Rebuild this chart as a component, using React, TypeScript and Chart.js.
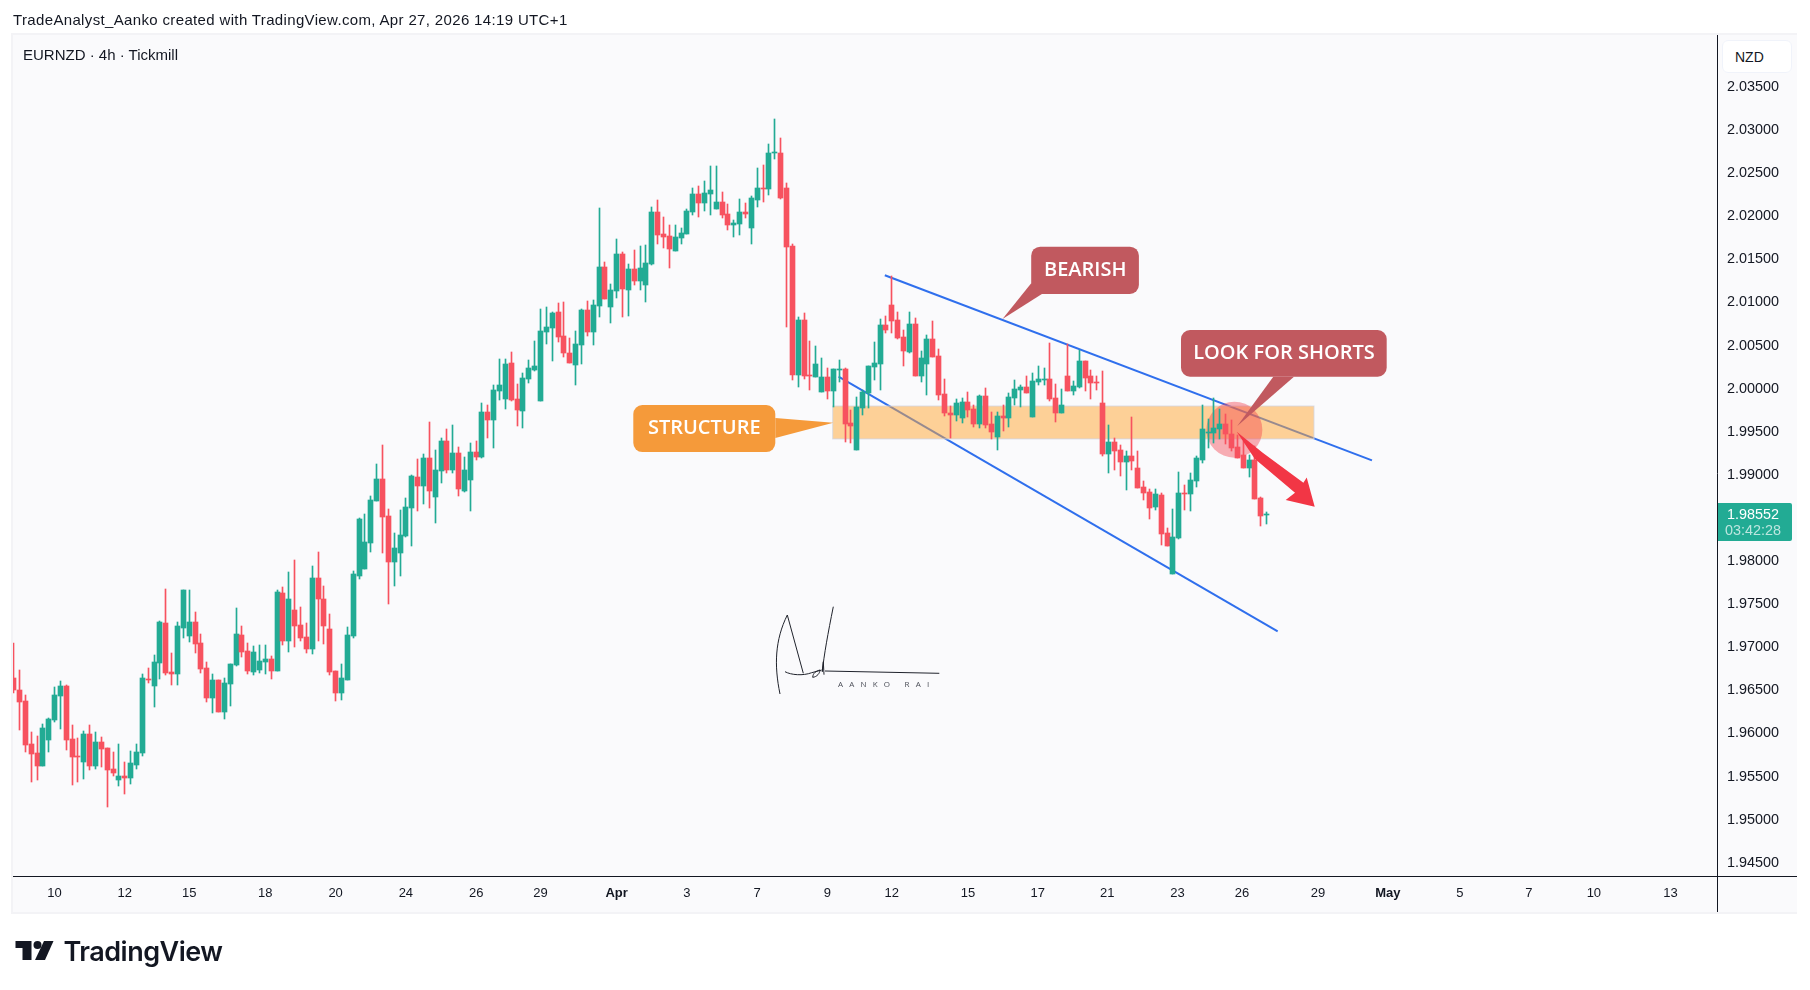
import { useEffect, useRef } from "react";
import { Chart, registerables } from "chart.js";

Chart.register(...registerables);

const UP = "#22ab94";
const DOWN = "#f7525f";
const INK = "#131722";
const PANEL = "#fafafc";
const UI_FONT = '"Liberation Sans", Arial, sans-serif';
const CALLOUT_FONT = '"Open Sans", sans-serif';

const opens = [
  1.96644,1.96505,1.96377,1.95878,1.95774,1.95623,1.95925,1.96157,1.96435,1.96551,
  1.95936,1.95739,1.95669,1.95994,1.95623,1.95901,1.95832,1.95588,1.95460,1.95507,
  1.95483,1.95635,1.95774,1.96632,1.96551,1.96818,1.97282,1.96713,1.96690,1.97224,
  1.97131,1.97293,1.97050,1.96760,1.96412,1.96621,1.96249,1.96574,1.96795,1.97143,
  1.96957,1.96713,1.96737,1.96829,1.96864,1.96725,1.97630,1.97073,1.97433,1.97259,
  1.97120,1.96980,1.97804,1.97560,1.97212,1.96725,1.96470,1.96621,1.97131,1.97827,
  1.97908,1.98210,1.98697,1.98952,1.98523,1.97990,1.98094,1.98291,1.98616,1.98976,
  1.98871,1.99196,1.98743,1.99045,1.99393,1.99057,1.99254,1.98813,1.98941,1.99265,
  1.99208,1.99730,1.99637,1.99973,1.99880,2.00298,1.99880,1.99741,2.00112,2.00217,
  1.99857,2.00658,2.00704,2.00890,2.00611,2.00414,2.00275,2.00507,2.00913,2.00658,
  2.00959,2.01412,2.00948,2.01133,2.01562,2.01145,2.01388,2.01249,2.01203,2.01446,
  2.02050,2.01794,2.01771,2.01597,2.01748,2.01794,2.02050,2.02258,2.02154,2.02258,
  2.02085,2.02166,2.02027,2.01899,2.01910,2.02050,2.01864,2.02189,2.02328,2.02316,
  2.02734,2.02734,2.02328,2.01655,2.00159,2.00797,2.00159,2.00136,1.99961,2.00136,
  1.99973,2.00217,2.00228,1.99602,1.99289,1.99776,1.99950,2.00251,2.00286,2.00739,
  2.00971,2.00797,2.00600,2.00425,2.00750,2.00147,2.00286,2.00576,2.00379,1.99938,
  1.99718,1.99695,1.99660,1.99845,1.99764,1.99590,1.99915,1.99590,1.99440,1.99683,
  1.99660,1.99892,1.99985,2.00019,1.99671,2.00078,2.00101,2.00112,1.99892,1.99718,
  2.00147,1.99973,2.00019,2.00321,2.00147,2.00078,1.99834,1.99242,1.99382,1.99289,
  1.99150,1.99219,1.99080,1.98860,1.98802,1.98627,1.98767,1.98326,1.97850,1.98268,
  1.98790,1.98778,1.98929,1.99173,1.99486,1.99486,1.99532,1.99590,1.99474,1.99324,
  1.99231,1.99080,1.99173,1.98732,1.98531,
];
const highs = [
  1.97050,1.96737,1.96447,1.96017,1.95970,1.96110,1.96180,1.96539,1.96609,1.96563,
  1.96099,1.95948,1.96029,1.96099,1.96017,1.95959,1.95832,1.95786,1.95878,1.95669,
  1.95797,1.95878,1.96690,1.96760,1.96911,1.97305,1.97676,1.96934,1.97293,1.97665,
  1.97665,1.97410,1.97154,1.96829,1.96690,1.96621,1.96644,1.96806,1.97456,1.97247,
  1.97050,1.97015,1.97027,1.97027,1.96899,1.97665,1.97700,1.97874,1.98013,1.97468,
  1.97282,1.97943,1.98106,1.97711,1.97386,1.96725,1.96806,1.97235,1.97885,1.98500,
  1.98546,1.98755,1.99126,1.99347,1.98604,1.98326,1.98593,1.98732,1.98999,1.99184,
  1.99242,1.99614,1.99289,1.99428,1.99532,1.99579,1.99324,1.99208,1.99370,1.99393,
  1.99834,1.99811,2.00042,2.00344,2.00344,2.00425,2.00054,2.00182,2.00333,2.00553,
  2.00925,2.00948,2.00890,2.00994,2.01006,2.00588,2.00669,2.00925,2.01017,2.01029,
  2.02096,2.01470,2.01214,2.01736,2.01585,2.01446,2.01609,2.01655,2.01667,2.02108,
  2.02189,2.01992,2.01899,2.01899,2.01864,2.02085,2.02328,2.02351,2.02409,2.02583,
  2.02583,2.02282,2.02142,2.01957,2.02200,2.02154,2.02235,2.02560,2.02595,2.02839,
  2.03129,2.02908,2.02386,2.01678,2.00832,2.00878,2.00553,2.00495,2.00356,2.00240,
  2.00228,2.00333,2.00240,1.99753,1.99904,1.99985,2.00263,2.00542,2.00808,2.00843,
  2.01307,2.00890,2.00681,2.00890,2.00820,2.00437,2.00623,2.00785,2.00460,2.00112,
  1.99799,1.99880,1.99892,1.99961,1.99811,1.99927,2.00008,1.99730,1.99730,1.99811,
  1.99950,2.00101,2.00042,2.00147,2.00182,2.00263,2.00240,2.00530,2.00054,1.99996,
  2.00518,2.00089,2.00449,2.00321,2.00217,2.00147,2.00205,1.99579,1.99428,1.99347,
  1.99277,1.99672,1.99277,1.98929,1.98836,1.98836,1.98790,1.98384,1.98604,1.99034,
  1.98883,1.99022,1.99219,1.99811,1.99648,1.99892,1.99764,1.99706,1.99637,1.99463,
  1.99393,1.99231,1.99335,1.98744,1.98569,
];
const lows = [
  1.96470,1.96041,1.95786,1.95437,1.95460,1.95620,1.95786,1.96134,1.96052,1.95809,
  1.95403,1.95437,1.95472,1.95577,1.95588,1.95611,1.95148,1.95507,1.95391,1.95298,
  1.95414,1.95588,1.95739,1.96586,1.96307,1.96632,1.96679,1.96563,1.96563,1.97108,
  1.97061,1.96934,1.96702,1.96365,1.96238,1.96249,1.96168,1.96319,1.96783,1.96887,
  1.96690,1.96679,1.96702,1.96690,1.96632,1.96725,1.97027,1.96945,1.97003,1.97073,
  1.96934,1.96922,1.97073,1.97038,1.96679,1.96377,1.96389,1.96621,1.97108,1.97792,
  1.97908,1.98106,1.98697,1.98094,1.97502,1.97711,1.97827,1.98279,1.98175,1.98581,
  1.98662,1.98616,1.98442,1.98906,1.99022,1.99022,1.98755,1.98801,1.98581,1.99173,
  1.99196,1.99428,1.99312,1.99869,1.99764,1.99857,1.99567,1.99544,2.00066,2.00205,
  1.99857,2.00518,2.00321,2.00542,2.00367,2.00298,2.00042,2.00286,2.00611,2.00507,
  2.00832,2.01040,2.00762,2.01052,2.00832,2.00843,2.01203,2.01145,2.01006,2.01435,
  2.01678,2.01632,2.01400,2.01597,2.01678,2.01794,2.02015,2.01992,2.02061,2.02015,
  2.02085,2.01980,2.01841,2.01760,2.01783,2.01980,2.01678,2.02108,2.02166,2.02247,
  2.02665,2.02200,2.00716,2.00101,2.00019,2.00112,1.99985,2.00136,1.99961,1.99880,
  1.99787,2.00078,1.99381,1.99370,1.99289,1.99695,1.99776,2.00101,1.99985,2.00646,
  2.00646,2.00576,2.00263,2.00414,2.00147,2.00078,1.99927,2.00367,1.99869,1.99683,
  1.99428,1.99625,1.99602,1.99671,1.99555,1.99544,1.99544,1.99416,1.99289,1.99509,
  1.99555,1.99811,1.99787,1.99950,1.99671,2.00042,2.00042,1.99857,1.99614,1.99718,
  1.99973,1.99927,2.00008,1.99973,1.99880,1.99985,1.99219,1.99022,1.99057,1.98987,
  1.98825,1.99057,1.98848,1.98709,1.98488,1.98593,1.98187,1.98175,1.97850,1.98256,
  1.98593,1.98581,1.98860,1.99138,1.99312,1.99370,1.99416,1.99358,1.99277,1.99196,
  1.99080,1.98975,1.98720,1.98407,1.98430,
];
const closes = [
  1.96505,1.96365,1.95867,1.95762,1.95623,1.96064,1.96168,1.96447,1.96551,1.95925,
  1.95727,1.95727,1.95994,1.95623,1.95901,1.95820,1.95577,1.95542,1.95507,1.95483,
  1.95658,1.95786,1.96644,1.96621,1.96829,1.97293,1.96702,1.96690,1.97247,1.97665,
  1.97293,1.97038,1.96748,1.96412,1.96621,1.96249,1.96586,1.96806,1.97154,1.96945,
  1.96725,1.96945,1.96841,1.96864,1.96725,1.97642,1.97073,1.97560,1.97247,1.97108,
  1.96980,1.97804,1.97560,1.97247,1.96713,1.96470,1.96644,1.97143,1.97850,1.98488,
  1.98222,1.98709,1.98952,1.98512,1.97990,1.98152,1.98303,1.98627,1.98987,1.98871,
  1.99196,1.98813,1.99057,1.99393,1.99057,1.99254,1.98836,1.99057,1.99265,1.99208,
  1.99730,1.99637,1.99985,2.00042,2.00286,1.99869,1.99753,2.00124,2.00240,2.00263,
  2.00669,2.00716,2.00878,2.00600,2.00414,2.00298,2.00518,2.00913,2.00658,2.00971,
  2.01412,2.01040,2.01145,2.01562,2.01156,2.01388,2.01249,2.01400,2.01458,2.02050,
  2.01783,2.01760,2.01620,2.01760,2.01806,2.02061,2.02258,2.02154,2.02270,2.02305,
  2.02166,2.02015,2.01899,2.01922,2.02050,2.02027,2.02212,2.02328,2.02316,2.02734,
  2.02746,2.02212,2.01644,2.00159,2.00797,2.00147,2.00147,2.00286,2.00136,1.99973,
  2.00228,2.00228,1.99590,1.99567,1.99787,1.99961,2.00263,2.00298,2.00739,2.00681,
  2.00785,2.00588,2.00437,2.00750,2.00147,2.00356,2.00576,2.00367,1.99927,1.99718,
  1.99695,1.99834,1.99845,1.99753,1.99590,1.99915,1.99579,1.99498,1.99683,1.99660,
  1.99904,1.99996,2.00019,1.99950,2.00089,2.00112,2.00112,1.99880,1.99718,1.99811,
  1.99973,2.00031,2.00321,2.00124,2.00066,2.00066,1.99242,1.99382,1.99277,1.99150,
  1.99219,1.99161,1.98848,1.98790,1.98616,1.98778,1.98314,1.98175,1.98280,1.98790,
  1.98778,1.98941,1.99196,1.99532,1.99498,1.99544,1.99590,1.99474,1.99312,1.99196,
  1.99080,1.99173,1.98720,1.98523,1.98552,
];

const priceTicks = [
  2.035, 2.03, 2.025, 2.02, 2.015, 2.01, 2.005, 2.0, 1.995, 1.99, 1.98, 1.975,
  1.97, 1.965, 1.96, 1.955, 1.95, 1.945,
];
const timeTickPositions = [
  7, 19, 30, 43, 55, 67, 79, 90, 103, 115, 127, 139, 150, 163, 174.9, 186.8,
  198.8, 209.8, 222.8, 234.7, 247, 258.8, 269.9, 283,
];
const timeTickLabels = [
  "10", "12", "15", "18", "20", "24", "26", "29", "Apr", "3", "7", "9", "12",
  "15", "17", "21", "23", "26", "29", "May", "5", "7", "10", "13",
];

// drawings, anchored on bar index / price
const upperTrend = [{ x: 148.8, y: 2.01316 }, { x: 232.0, y: 1.99169 }];
const lowerTrend = [{ x: 140.9, y: 2.00139 }, { x: 215.9, y: 1.97184 }];
const structureZone = { x0: 139.9, x1: 222.1, top: 1.99799, bottom: 1.99417 };
const shortCircle = { x: 208.5, y: 1.99524 };
const arrowStart = { x: 208.9, y: 1.99500 };

const callouts = [
  { text: "STRUCTURE", fill: "#f59a3a", x: 140.0, y: 1.99605, box: [-200, -17.7, -58, 29.3], tail: [[-58, -4.7], [-58, 15.3]], textAt: [-129, 5.5] },
  { text: "BEARISH", fill: "#c1595f", x: 168.9, y: 2.00809, box: [28.7, -72.3, 136.4, -25], tail: [[28.7, -35.7], [39.4, -25]], textAt: [82.7, -49] },
  { text: "LOOK FOR SHORTS", fill: "#c1595f", x: 209.0, y: 1.99567, box: [-56.3, -96, 149.4, -49.3], tail: [[36, -49.3], [56.7, -49.3]], textAt: [46.7, -72.5] },
];

function snapBars(chart: any) {
  chart.data.datasets.forEach((ds: any, i: number) => {
    if (ds.type === "line") return;
    chart.getDatasetMeta(i).data.forEach((el: any) => {
      el.x = Math.floor(el.x) + 0.5;
      el.y = Math.round(el.y);
      el.base = Math.round(el.base);
      if (el.y === el.base) el.base = el.y + 1;
    });
  });
}

const framePlugin = {
  id: "frame",
  beforeDraw(chart: any) {
    const { ctx, chartArea: a } = chart;
    ctx.save();
    ctx.fillStyle = "#f3f3f6";
    ctx.fillRect(a.left - 2, a.top - 2, 1799 - a.left, 912 - a.top + 4);
    ctx.fillStyle = PANEL;
    ctx.fillRect(a.left, a.top, 1797 - a.left, 912 - a.top);
    ctx.restore();
  },
  beforeDatasetDraw(chart: any, args: any) {
    if (args.meta.label !== "wicks") return;
    const { ctx, scales } = chart;
    const { x, y } = scales;
    ctx.save();
    const zx = x.getPixelForValue(structureZone.x0);
    const zy = y.getPixelForValue(structureZone.top);
    const zw = x.getPixelForValue(structureZone.x1) - zx;
    const zh = y.getPixelForValue(structureZone.bottom) - zy;
    ctx.fillStyle = "rgba(255,165,50,0.5)";
    ctx.fillRect(zx, zy, zw, zh);
    ctx.strokeStyle = "rgba(210,214,226,0.8)";
    ctx.lineWidth = 1;
    ctx.strokeRect(zx, zy, zw, zh);
    ctx.beginPath();
    ctx.arc(x.getPixelForValue(shortCircle.x), y.getPixelForValue(shortCircle.y), 28, 0, Math.PI * 2);
    ctx.fillStyle = "rgba(242,54,69,0.4)";
    ctx.fill();
    ctx.restore();
  },
  afterDraw(chart: any) {
    const { ctx, chartArea: a, scales } = chart;
    const { x, y } = scales;
    ctx.save();
    // axis rules
    ctx.strokeStyle = INK;
    ctx.lineWidth = 1;
    ctx.beginPath();
    ctx.moveTo(a.right + 0.5, a.top);
    ctx.lineTo(a.right + 0.5, 912);
    ctx.moveTo(a.left, a.bottom + 0.5);
    ctx.lineTo(1797, a.bottom + 0.5);
    ctx.stroke();

    // last price tag
    const py = y.getPixelForValue(closes[closes.length - 1]);
    ctx.fillStyle = UP;
    ctx.beginPath();
    ctx.roundRect(a.right + 1, py - 10.5, 74, 38, [0, 2, 2, 0]);
    ctx.fill();
    ctx.textAlign = "center";
    ctx.textBaseline = "middle";
    ctx.font = `14.4px ${UI_FONT}`;
    ctx.fillStyle = "#ffffff";
    ctx.fillText(closes[closes.length - 1].toFixed(5), a.right + 36, py + 1.5);
    ctx.fillStyle = "rgba(255,255,255,0.7)";
    ctx.fillText("03:42:28", a.right + 36, py + 17.5);

    // callouts
    for (const c of callouts) {
      const tx = x.getPixelForValue(c.x);
      const ty = y.getPixelForValue(c.y);
      const [l, t, r, b] = c.box;
      ctx.fillStyle = c.fill;
      ctx.beginPath();
      ctx.roundRect(tx + l, ty + t, r - l, b - t, 9);
      ctx.fill();
      ctx.beginPath();
      ctx.moveTo(tx, ty);
      ctx.lineTo(tx + c.tail[0][0], ty + c.tail[0][1]);
      ctx.lineTo(tx + c.tail[1][0], ty + c.tail[1][1]);
      ctx.closePath();
      ctx.fill();
      ctx.fillStyle = "#ffffff";
      ctx.font = `600 20px ${CALLOUT_FONT}`;
      ctx.textAlign = "center";
      ctx.textBaseline = "middle";
      ctx.fillText(c.text, tx + c.textAt[0], ty + c.textAt[1]);
    }

    // arrow
    const ax = x.getPixelForValue(arrowStart.x);
    const ay = y.getPixelForValue(arrowStart.y);
    ctx.fillStyle = "#f23645";
    ctx.beginPath();
    ctx.moveTo(ax, ay);
    ctx.lineTo(ax + 26, ay + 21);
    ctx.lineTo(ax + 66.7, ay + 51);
    ctx.lineTo(ax + 70, ay + 45.7);
    ctx.lineTo(ax + 78, ay + 75);
    ctx.lineTo(ax + 49, ay + 68.3);
    ctx.lineTo(ax + 58.3, ay + 61);
    ctx.lineTo(ax + 18, ay + 27);
    ctx.closePath();
    ctx.fill();
    ctx.restore();
  },
};

export default function App() {
  const canvasRef = useRef<HTMLCanvasElement | null>(null);

  useEffect(() => {
    if (!canvasRef.current) return;
    const idx = closes.map((_, i) => i);
    const colors = closes.map((c, i) => (c >= opens[i] ? UP : DOWN));

    const chart = new Chart(canvasRef.current, {
      type: "bar",
      data: {
        datasets: [
          {
            type: "line",
            label: "upper",
            data: upperTrend,
            borderColor: "#2f6fed",
            borderWidth: 2,
            pointRadius: 0,
            order: 5,
          },
          {
            type: "line",
            label: "lower",
            data: lowerTrend,
            borderColor: "#2f6fed",
            borderWidth: 2,
            pointRadius: 0,
            order: 4,
          },
          {
            label: "wicks",
            data: idx.map((i) => ({ x: i, y: [lows[i], highs[i]] })),
            backgroundColor: colors,
            barThickness: 1,
            grouped: false,
            order: 2,
          },
          {
            label: "bodies",
            data: idx.map((i) => ({ x: i, y: [opens[i], closes[i]] })),
            backgroundColor: colors,
            barThickness: 5,
            grouped: false,
            order: 1,
          },
        ],
      } as any,
      options: {
        responsive: false,
        animation: false,
        events: [],
        layout: {
          autoPadding: false,
          padding: { left: 13, top: 35, right: 31, bottom: 78 },
        },
        plugins: { legend: { display: false }, tooltip: { enabled: false } },
        scales: {
          x: {
            type: "linear",
            min: -0.1,
            max: 290.93,
            offset: false,
            grid: { display: false, drawTicks: false },
            border: { display: false },
            afterBuildTicks: (scale: any) => {
              scale.ticks = timeTickPositions.map((value) => ({ value }));
            },
            afterFit: (scale: any) => {
              scale.height = 36;
            },
            ticks: {
              autoSkip: false,
              maxRotation: 0,
              padding: 10,
              color: INK,
              font: (c: any) => ({
                family: UI_FONT,
                size: 13,
                weight: timeTickLabels[c.index] === "Apr" || timeTickLabels[c.index] === "May" ? "bold" : "normal",
              }),
              callback: (_v: any, i: number) => timeTickLabels[i],
            },
          },
          y: {
            type: "linear",
            position: "right",
            min: 1.94347,
            max: 2.04103,
            grid: { display: false, drawTicks: false },
            border: { display: false },
            afterBuildTicks: (scale: any) => {
              scale.ticks = priceTicks.map((value) => ({ value }));
            },
            afterFit: (scale: any) => {
              scale.width = 62;
            },
            ticks: {
              autoSkip: false,
              crossAlign: "far",
              padding: 11,
              color: INK,
              font: { family: UI_FONT, size: 14.4 },
              callback: (v: any) => Number(v).toFixed(5),
            },
          },
        },
      } as any,
      plugins: [
        { id: "snap", afterDatasetsUpdate: snapBars },
        framePlugin,
      ],
    });

    return () => chart.destroy();
  }, []);

  const label: React.CSSProperties = {
    position: "absolute",
    fontFamily: UI_FONT,
    color: INK,
    whiteSpace: "nowrap",
  };

  return (
    <div style={{ position: "absolute", left: 0, top: 0, width: 1810, height: 990, background: "#fff", overflow: "hidden" }}>
      <canvas ref={canvasRef} width={1810} height={990} style={{ display: "block" }} />
      <div style={{ ...label, left: 13, top: 11, fontSize: 15, letterSpacing: 0.35 }}>
        TradeAnalyst_Aanko created with TradingView.com, Apr 27, 2026 14:19 UTC+1
      </div>
      <div style={{ ...label, left: 23, top: 46, fontSize: 15 }}>EURNZD · 4h · Tickmill</div>
      <div
        style={{
          ...label,
          left: 1722,
          top: 40,
          width: 70,
          height: 33,
          boxSizing: "border-box",
          paddingLeft: 12,
          lineHeight: "33px",
          fontSize: 14,
          background: "#fff",
          border: "1px solid #f0f3fa",
          borderRadius: 6,
        }}
      >
        NZD
      </div>
      <svg width={1810} height={990} style={{ position: "absolute", left: 0, top: 0, pointerEvents: "none" }}>
        <g fill="none" stroke="#1f222b" strokeWidth={1}>
          <path d="M780 694 C774 665 775 640 787.3 615 L803.3 673.3" />
          <path d="M785 671.7 C791 675 803 676 811.7 672.7 L821.7 670" />
          <path d="M812.7 677.3 C813 673 816 671 820 670 C820 673 817 677 812.7 677.3 Z" />
          <path d="M824 674.7 L823.3 661.7 L822.3 671.7 C824 655 828 633 833.3 606.7" />
          <path d="M825 671 L939.3 673.3" />
        </g>
        <text x={838} y={687} fontFamily='"Open Sans", sans-serif' fontSize={8} letterSpacing={6.2} fill="#4a4d57">
          AANKO RAI
        </text>
        <g fill="#131722">
          <path d="M15.5 941 H31.5 V960 H22.5 V948 H15.5 Z" />
          <circle cx={37.5} cy={945} r={4} />
          <path d="M44 941 H53.5 L45 960 H35 Z" />
        </g>
        <text x={63.5} y={961} fontFamily="Inter, sans-serif" fontWeight={600} fontSize={27} letterSpacing={-0.5} fill="#131722">
          TradingView
        </text>
      </svg>
    </div>
  );
}
